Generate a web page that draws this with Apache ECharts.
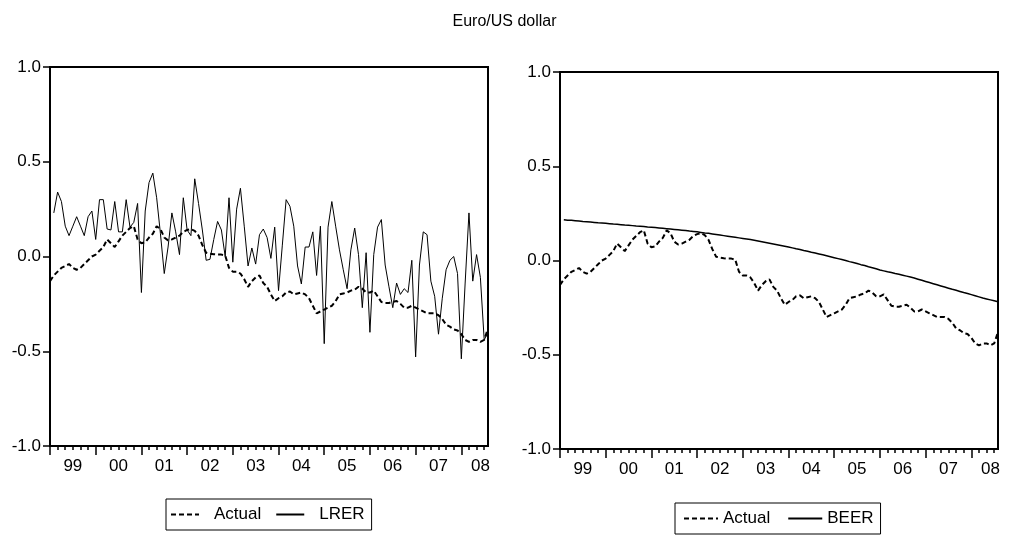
<!DOCTYPE html>
<html><head><meta charset="utf-8">
<script src="https://cdn.jsdelivr.net/npm/echarts@6/dist/echarts.min.js"></script>
<style>html,body{margin:0;padding:0;background:#fff}#c{width:1009px;height:541px}</style>
</head><body><div id="c"></div>
<script>
// monthly observations 1999M01 .. 2008M08
const months = [];
for (let y = 1999; y <= 2008; y++) for (let m = 1; m <= 12; m++) {
  if (y === 2008 && m > 8) break;
  months.push(y + 'M' + (m < 10 ? '0' + m : m));
}
const yearLabels = ['99','00','01','02','03','04','05','06','07','08'];

const actual = [-0.13,-0.10,-0.08,-0.06,-0.05,-0.04,-0.06,-0.07,-0.06,-0.04,
-0.02,0.00,0.01,0.03,0.05,0.09,0.07,0.05,0.08,0.11,
0.13,0.15,0.16,0.09,0.07,0.075,0.10,0.12,0.16,0.145,
0.10,0.085,0.09,0.10,0.11,0.13,0.14,0.145,0.135,0.11,
0.06,0.02,0.015,0.012,0.01,0.01,0.005,-0.06,-0.08,-0.08,
-0.09,-0.12,-0.16,-0.13,-0.11,-0.10,-0.14,-0.16,-0.20,-0.235,
-0.22,-0.21,-0.19,-0.185,-0.20,-0.195,-0.19,-0.20,-0.22,-0.26,
-0.30,-0.29,-0.28,-0.27,-0.26,-0.235,-0.20,-0.195,-0.19,-0.18,
-0.175,-0.16,-0.17,-0.19,-0.19,-0.18,-0.21,-0.24,-0.245,-0.245,
-0.24,-0.235,-0.25,-0.27,-0.27,-0.26,-0.27,-0.28,-0.29,-0.30,
-0.30,-0.30,-0.31,-0.33,-0.36,-0.37,-0.385,-0.39,-0.41,-0.44,
-0.45,-0.44,-0.44,-0.45,-0.44,-0.38];

const lrer = [null,0.23,0.34,0.29,0.16,0.11,0.16,0.21,0.16,0.11,
0.21,0.24,0.09,0.30,0.30,0.145,0.14,0.29,0.13,0.13,
0.30,0.155,0.18,0.28,-0.19,0.24,0.39,0.44,0.31,0.12,
-0.09,0.05,0.23,0.13,0.01,0.31,0.14,0.11,0.41,0.28,
0.14,-0.02,-0.015,0.09,0.185,0.14,0.00,0.31,-0.03,0.25,
0.36,0.16,-0.05,0.045,-0.04,0.115,0.145,0.10,-0.01,0.155,
-0.18,0.06,0.30,0.265,0.16,-0.05,-0.145,0.05,0.05,0.13,
-0.10,0.16,-0.46,0.155,0.29,0.16,0.035,-0.07,-0.17,0.035,
0.15,0.01,-0.27,0.02,-0.40,0.01,0.155,0.195,-0.045,-0.16,
-0.27,-0.14,-0.20,-0.17,-0.19,-0.02,-0.53,-0.045,0.13,0.115,
-0.13,-0.21,-0.41,-0.22,-0.07,-0.02,0.00,-0.09,-0.54,-0.14,
0.23,-0.13,0.01,-0.11,-0.44,-0.40];

const beer = [null,0.216,0.214,0.213,0.211,0.209,0.207,0.206,0.204,0.202,
0.200,0.199,0.197,0.195,0.193,0.192,0.190,0.188,0.187,0.185,
0.183,0.182,0.180,0.178,0.177,0.175,0.173,0.171,0.169,0.167,
0.165,0.163,0.161,0.159,0.156,0.154,0.152,0.149,0.146,0.144,
0.141,0.138,0.135,0.132,0.129,0.126,0.123,0.120,0.117,0.114,
0.111,0.108,0.104,0.100,0.096,0.092,0.088,0.084,0.080,0.076,
0.072,0.067,0.062,0.058,0.053,0.049,0.044,0.040,0.035,0.030,
0.025,0.020,0.015,0.010,0.005,0.000,-0.006,-0.011,-0.016,-0.022,
-0.027,-0.033,-0.038,-0.044,-0.050,-0.055,-0.060,-0.064,-0.069,-0.073,
-0.078,-0.083,-0.088,-0.093,-0.099,-0.105,-0.111,-0.117,-0.123,-0.129,
-0.135,-0.141,-0.147,-0.153,-0.158,-0.164,-0.170,-0.175,-0.181,-0.187,
-0.193,-0.199,-0.204,-0.209,-0.214,-0.219];

const FONT = "'Liberation Sans', Arial, sans-serif";
const FS = 17;
const isLabel = i => (i % 12 === 6 && i < 108) || i === 113;

function xAxes(gi) {
  return [
    { type: 'category', gridIndex: gi, data: months, boundaryGap: false, position: 'bottom',
      axisLine: { onZero: false, lineStyle: { color: '#000', width: 2 } },
      axisTick: { interval: 1, length: 4, lineStyle: { color: '#000', width: 1.5 } },
      axisLabel: { interval: (i) => isLabel(i), formatter: (v, i) => yearLabels[Math.min(9, Math.floor(i / 12))],
        color: '#000', fontSize: FS, fontFamily: FONT, margin: 12 },
      splitLine: { show: false } },
    { type: 'category', gridIndex: gi, data: months, boundaryGap: false, position: 'bottom',
      axisLine: { show: false, onZero: false },
      axisTick: { interval: 11, length: 9, lineStyle: { color: '#000', width: 1.5 } },
      axisLabel: { show: false }, splitLine: { show: false } }
  ];
}
function yAxis(gi) {
  return { type: 'value', gridIndex: gi, min: -1, max: 1, interval: 0.5,
    axisLine: { show: true, onZero: false, lineStyle: { color: '#000', width: 2 } },
    axisTick: { show: true, length: 7, lineStyle: { color: '#000', width: 1.5 } },
    axisLabel: { formatter: v => v.toFixed(1), color: '#000', fontSize: FS, fontFamily: FONT, margin: 9 },
    splitLine: { show: false } };
}
const dashed = { color: '#000', width: 2, type: [5, 3] };
const blackItem = { color: '#000' };

const option = {
  animation: false,
  backgroundColor: '#fff',
  title: { text: 'Euro/US dollar', left: 'center', top: 9,
    textStyle: { fontSize: 16, fontWeight: 'normal', color: '#000', fontFamily: FONT } },
  grid: [
    { left: 50, top: 67, right: 521, bottom: 95, show: true, borderColor: '#000', borderWidth: 2 },
    { left: 560, top: 72, right: 11, bottom: 92, show: true, borderColor: '#000', borderWidth: 2 }
  ],
  xAxis: [...xAxes(0), ...xAxes(1)],
  yAxis: [yAxis(0), yAxis(1)],
  legend: [
    { data: ['Actual', 'LRER'], left: 166, top: 499, orient: 'horizontal',
      borderColor: '#000', borderWidth: 1, padding: [7, 7, 7, 4], itemWidth: 28, itemHeight: 14, itemGap: 14,
      itemStyle: { opacity: 0 },
      textStyle: { fontSize: FS, color: '#000', fontFamily: FONT, padding: [0, 0, 0, 10] }, selectedMode: false },
    { data: ['Actual ', 'BEER'], left: 675, top: 503, orient: 'horizontal',
      borderColor: '#000', borderWidth: 1, padding: [7, 7, 7, 8], itemWidth: 34, itemHeight: 14, itemGap: 17,
      itemStyle: { opacity: 0 },
      textStyle: { fontSize: FS, color: '#000', fontFamily: FONT }, selectedMode: false,
      formatter: n => n.trim() }
  ],
  series: [
    { name: 'Actual', type: 'line', xAxisIndex: 0, yAxisIndex: 0, data: actual, symbol: 'none', itemStyle: blackItem, lineStyle: dashed, z: 3 },
    { name: 'LRER', type: 'line', xAxisIndex: 0, yAxisIndex: 0, data: lrer, symbol: 'none', itemStyle: blackItem, lineStyle: { color: '#000', width: 1 }, z: 2 },
    { name: 'Actual ', type: 'line', xAxisIndex: 2, yAxisIndex: 1, data: actual, symbol: 'none', itemStyle: blackItem, lineStyle: dashed, z: 3 },
    { name: 'BEER', type: 'line', xAxisIndex: 2, yAxisIndex: 1, data: beer, symbol: 'none', itemStyle: blackItem, lineStyle: { color: '#000', width: 1.5 }, z: 2 }
  ]
};
const chart = echarts.init(document.getElementById('c'), null, { renderer: 'canvas' });
chart.setOption(option);
</script>
</body></html>
